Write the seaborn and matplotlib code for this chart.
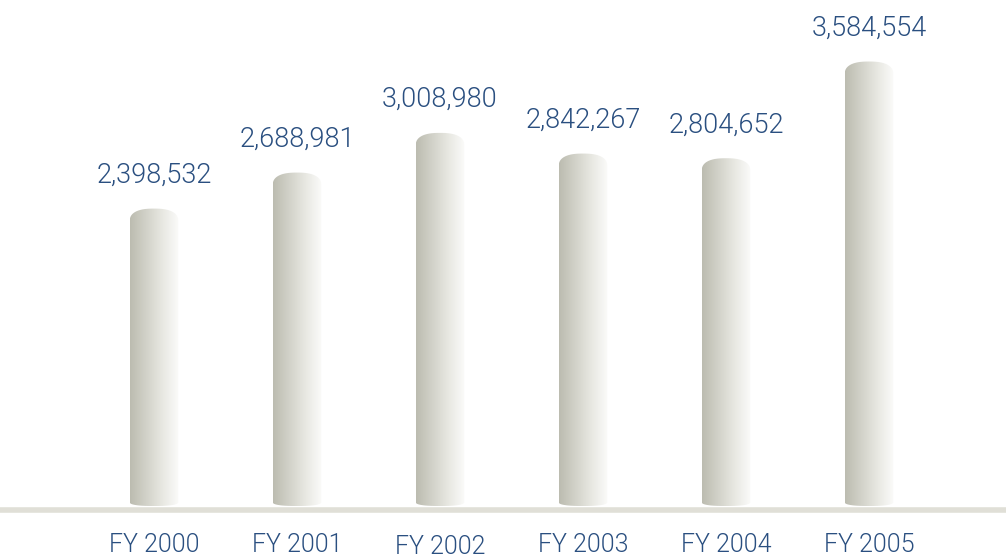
import numpy as np
import pandas as pd
import seaborn as sns
import matplotlib
matplotlib.use("Agg")
import matplotlib.pyplot as plt
from matplotlib.path import Path
from matplotlib.patches import PathPatch
from matplotlib.colors import LinearSegmentedColormap
from matplotlib.transforms import ScaledTranslation

# ---- data ----
years = ["FY 2000", "FY 2001", "FY 2002", "FY 2003", "FY 2004", "FY 2005"]
values = [2398532, 2688981, 3008980, 2842267, 2804652, 3584554]
value_labels = ["2,398,532", "2,688,981", "3,008,980", "2,842,267", "2,804,652", "3,584,554"]

df = pd.DataFrame({"year": years, "value": values})

sns.set_theme(style="white")
plt.rcParams["font.family"] = ["Roboto", "DejaVu Sans"]

TEXT = "#2a4f80"
W, H, DPI = 1006, 559, 100
fig = plt.figure(figsize=(W / DPI, H / DPI), dpi=DPI, facecolor="white")

px_per_unit = 124e-6          # pixels per value unit
zero_px = 506                 # pixel row of value 0
ax_bottom_px = 515
ax = fig.add_axes([0, (H - ax_bottom_px) / H, 1, ax_bottom_px / H])
ax.set_facecolor("white")

sns.barplot(data=df, x="year", y="value", ax=ax, width=0.34, color="#cccccc",
            saturation=1)

step = 143.0
xmin = -154.0 / step
ylims = (-(ax_bottom_px - zero_px) / px_per_unit, zero_px / px_per_unit)

# baseline
ax.axhline(-3.5 / px_per_unit, color="#e0dfd7", lw=4.0, zorder=1)

cmap = LinearSegmentedColormap.from_list(
    "cyl", ["#bcbcb0", "#d2d2c9", "#e8e8e2", "#fbfbfa"])
grad = np.linspace(0, 1, 256).reshape(1, -1)

cap = 13 / px_per_unit
bcap = 4 / px_per_unit
for p in ax.patches:
    x0, w, h = p.get_x(), p.get_width(), p.get_height()
    p.set_visible(False)
    t = np.linspace(np.pi, 0, 40)
    cx = x0 + w / 2
    ex = cx + (w / 2) * np.sign(np.cos(t)) * np.abs(np.cos(t)) ** 0.8
    ey = (h - cap) + cap * np.abs(np.sin(t)) ** 0.8
    tb = np.linspace(0, -np.pi, 40)
    bx = cx + (w / 2) * np.sign(np.cos(tb)) * np.abs(np.cos(tb)) ** 0.8
    by = bcap - bcap * np.abs(np.sin(tb)) ** 0.8
    verts = np.column_stack([np.concatenate([ex, bx]), np.concatenate([ey, by])])
    verts = np.vstack([verts, verts[0]])
    path = Path(verts, closed=True)
    clip = PathPatch(path, transform=ax.transData, facecolor="none", edgecolor="none")
    ax.add_patch(clip)
    im = ax.imshow(grad, cmap=cmap, aspect="auto", extent=[x0, x0 + w, -2 * bcap, h],
                   interpolation="bilinear", zorder=2)
    im.set_clip_path(clip)

ax.set_xlim(xmin, xmin + W / step)
ax.set_ylim(*ylims)

for i, (v, lab) in enumerate(zip(values, value_labels)):
    ax.annotate(lab, (i, v), xytext=(0, 20), textcoords="offset pixels",
                ha="center", va="bottom", fontsize=19.5, color=TEXT,
                fontweight=300, annotation_clip=False)

ax.set_xlabel("")
ax.set_ylabel("")
ax.set_yticks([])
ax.tick_params(axis="x", length=0, pad=13, labelsize=18, labelcolor=TEXT)
for lbl in ax.get_xticklabels():
    lbl.set_fontweight(300)
    if lbl.get_text() == "FY 2002":
        lbl.set_transform(lbl.get_transform() + ScaledTranslation(0, -2 / DPI, fig.dpi_scale_trans))
for s in ax.spines.values():
    s.set_visible(False)

fig.savefig("out.png", dpi=DPI, facecolor="white")
